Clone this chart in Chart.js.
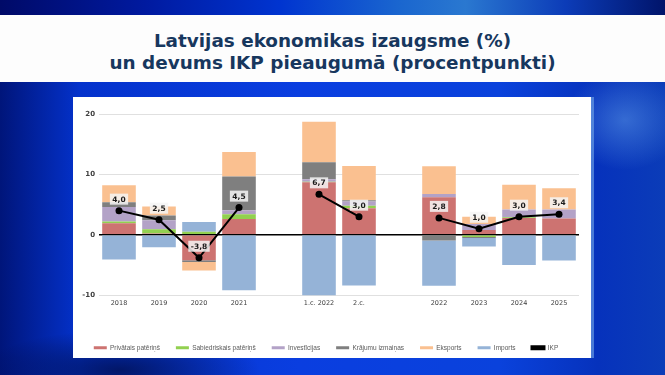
<!DOCTYPE html>
<html><head><meta charset="utf-8">
<script src="https://cdn.jsdelivr.net/npm/chart.js@4"></script>
<style>
html,body{margin:0;padding:0;}
body{width:665px;height:375px;overflow:hidden;position:relative;
 background:
  radial-gradient(ellipse 60px 50px at 625px 120px, rgba(90,150,230,0.55), rgba(90,150,230,0) 100%),
  radial-gradient(ellipse 140px 40px at 120px 370px, rgba(0,10,60,0.7), rgba(0,10,60,0) 100%),
  linear-gradient(90deg,#00157a 0%,#0432cc 12%,#0a3ee0 45%,#0a42dc 75%,#0632bc 90%,#0b3cb8 100%);}
#topstrip{position:absolute;left:0;top:0;width:665px;height:15px;
 background:linear-gradient(90deg,#000a68 0%,#001aa0 22%,#0034d0 42%,#1a66cf 60%,#2a78d0 70%,#0c3cb8 85%,#00146a 100%);}
#band{position:absolute;left:0;top:15px;width:665px;height:67px;background:#fdfdfd;}
#title{position:absolute;left:0;top:30px;width:665px;text-align:center;
 font-family:"DejaVu Sans";font-weight:bold;font-size:18.4px;line-height:22px;color:#17375e;}
#panel{position:absolute;left:73px;top:97px;width:518px;height:261px;background:#fff;
 box-shadow:3px 0 0 rgba(120,170,230,0.6);}
#wrap{position:absolute;left:73px;top:97px;width:518px;height:264px;}
</style></head>
<body>
<div id="topstrip"></div>
<div id="band"></div>
<div id="title">Latvijas ekonomikas izaugsme (%)<br>un devums IKP pieaugumā (procentpunkti)</div>
<div id="panel"></div>
<div id="wrap"><canvas id="c" width="518" height="264"></canvas></div>
<script>
const categories = ['2018','2019','2020','2021','','1.c. 2022','2.c.','','2022','2023','2024','2025'];
const privatais   = [1.9, 0.2, -4.2, 2.6, null, 8.7, 4.4, null, 6.2, 0.8, 2.8, 2.7];
const sabiedriskais = [0.3, 0.7, 0.5, 0.8, null, 0.1, 0.4, null, 0.0, -0.35, 0.1, 0.0];
const investicijas = [2.4, 1.5, 0.0, 0.65, null, 0.4, 0.7, null, 0.55, 1.0, 1.3, 1.5];
const krajumi     = [0.8, 0.8, -0.3, 5.6, null, 2.8, 0.2, null, -0.95, -0.2, 0.0, 0.0];
const eksports    = [2.8, 1.5, -1.4, 4.05, null, 6.7, 5.7, null, 4.6, 1.2, 4.1, 3.5];
const imports     = [-4.1, -2.05, 1.6, -9.2, null, -11.9, -8.4, null, -7.5, -1.4, -5.0, -4.25];
const ikp         = [4.0, 2.5, -3.8, 4.5, null, 6.7, 3.0, null, 2.8, 1.0, 3.0, 3.4];
const yTicks = [-10, 0, 10, 20];

const barSeries = [
  ['Privātais patēriņš', privatais, '#cd7371'],
  ['Sabiedriskais patēriņš', sabiedriskais, '#92d050'],
  ['Investīcijas', investicijas, '#b3a2c7'],
  ['Krājumu izmaiņas', krajumi, '#7f7f7f'],
  ['Eksports', eksports, '#fac090'],
  ['Imports', imports, '#95b3d7']
];
const datasets = barSeries.map(([label, data, color]) => ({
  type:'bar', label, data, backgroundColor:color, borderWidth:0, order:1, stack:'s',
  barPercentage:0.84, categoryPercentage:1
}));
datasets.push({type:'line', label:'IKP', data:ikp, borderColor:'#000', backgroundColor:'#000',
  borderWidth:2, pointRadius:3.5, pointBackgroundColor:'#000', pointBorderWidth:0,
  spanGaps:false, order:0, stack:'line'});

const labelPlugin = {
  id:'ikpLabels',
  afterDatasetsDraw(chart){
    const ctx = chart.ctx;
    const meta = chart.getDatasetMeta(chart.data.datasets.length-1);
    ctx.save();
    ctx.font = 'bold 7.5px "DejaVu Sans"';
    ctx.textAlign = 'center'; ctx.textBaseline = 'middle';
    meta.data.forEach((pt,i)=>{
      const v = ikp[i]; if (v == null) return;
      const txt = v.toFixed(1).replace('.',',');
      const w = ctx.measureText(txt).width + 5, h = 11;
      const x = pt.x, y = pt.y - 11.5;
      ctx.fillStyle = 'rgba(245,245,245,0.85)';
      ctx.fillRect(x - w/2, y - h/2, w, h);
      ctx.fillStyle = '#1a1a1a';
      ctx.fillText(txt, x, y + 0.5);
    });
    ctx.restore();
  }
};

new Chart(document.getElementById('c'), {
  data:{labels:categories, datasets},
  options:{
    responsive:false, animation:false,
    layout:{padding:{left:0,right:12,top:17,bottom:0}},
    plugins:{
      legend:{position:'bottom',
        labels:{boxWidth:13, boxHeight:3, padding:16, color:'#595959',
          font:{family:'"Liberation Sans"', size:6.5},
          sort:(a,b)=>a.datasetIndex-b.datasetIndex}},
      tooltip:{enabled:false}
    },
    scales:{
      x:{stacked:true, grid:{display:false, drawTicks:false}, border:{display:false},
        ticks:{color:'#404040', font:{family:'"DejaVu Sans"', size:6.5}, padding:4, maxRotation:0, autoSkip:false},
        afterFit(s){ s.height = 33.3; }},
      y:{stacked:true, min:-10, max:20,
        afterBuildTicks(s){ s.ticks = yTicks.map(v=>({value:v})); },
        grid:{color:(c)=> c.tick && c.tick.value===0 ? '#000' : '#e0e0e0',
              lineWidth:(c)=> c.tick && c.tick.value===0 ? 1.5 : 1, drawTicks:false},
        border:{display:false},
        ticks:{color:'#404040', font:{family:'"DejaVu Sans"', size:7, weight:'bold'}, padding:4},
        afterFit(s){ s.width = 26; }}
    }
  },
  plugins:[labelPlugin]
});
</script>
</body></html>
